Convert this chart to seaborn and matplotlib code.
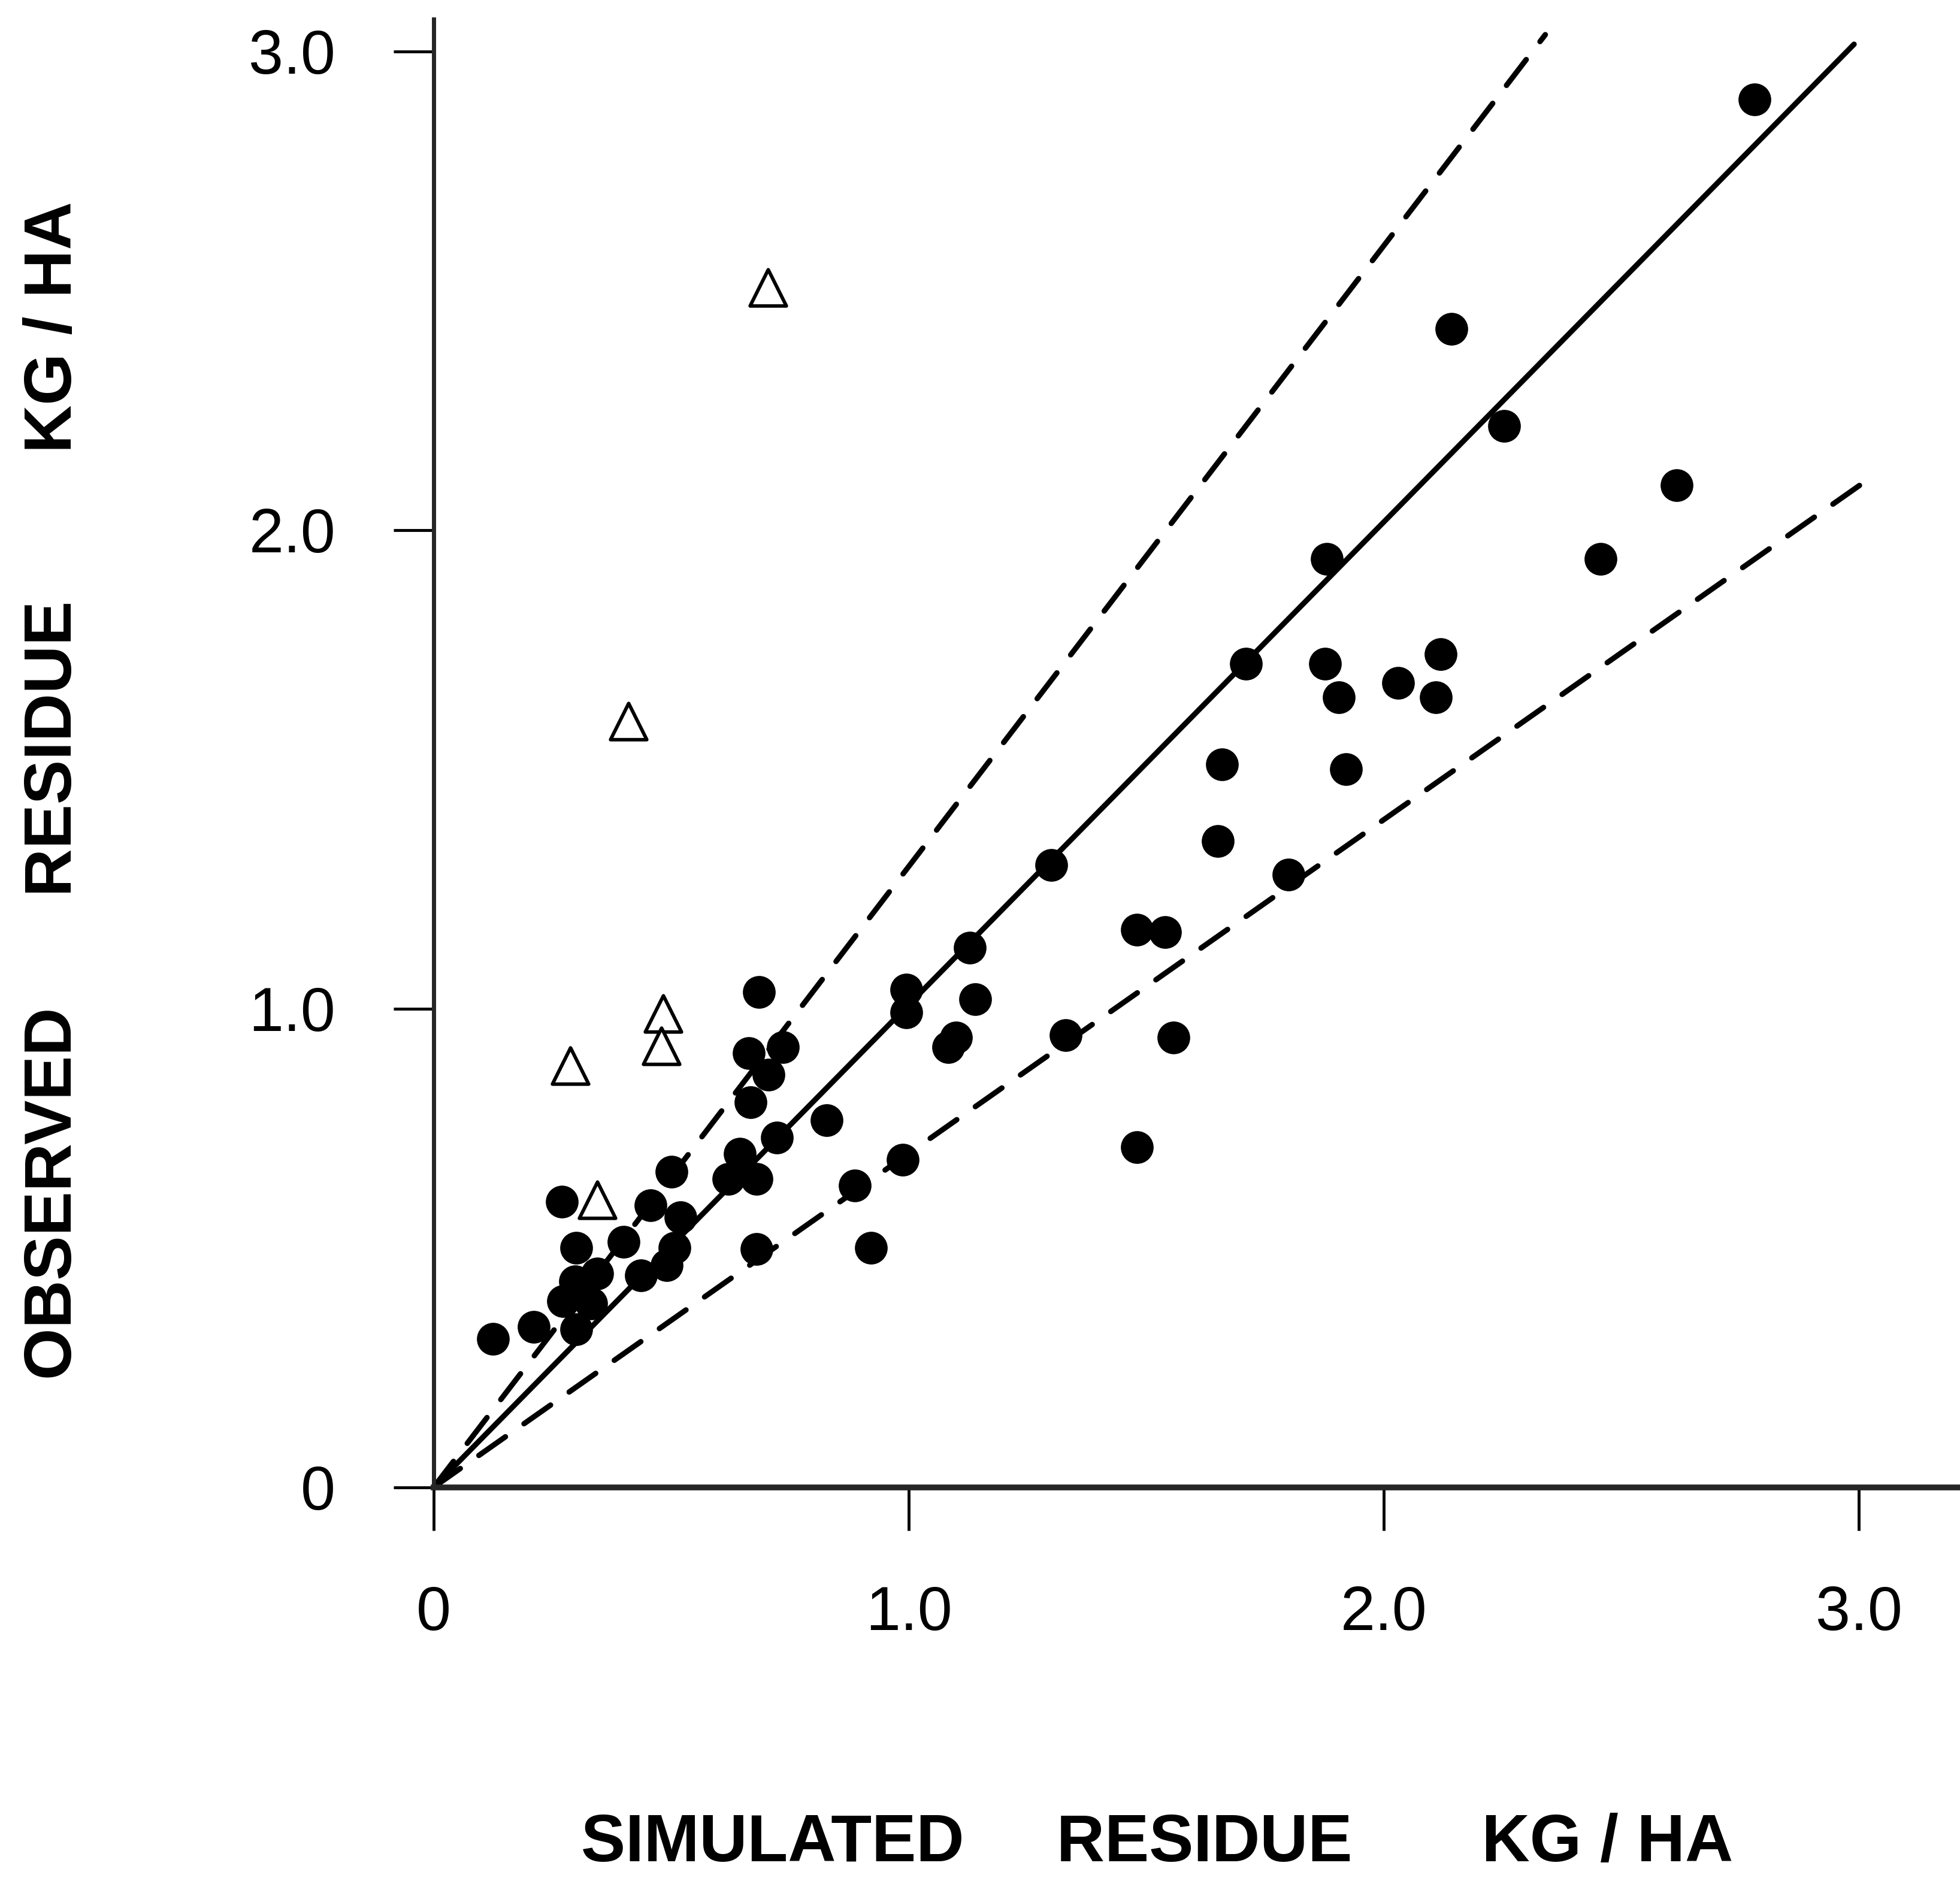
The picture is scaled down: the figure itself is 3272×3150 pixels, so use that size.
import matplotlib
matplotlib.use("Agg")
import matplotlib.pyplot as plt
import seaborn as sns

# --- Veri: simulated vs observed residue (kg/ha) ---
sim_circ = [0.125, 0.21, 0.27, 0.30, 0.297, 0.344, 0.272, 0.331, 0.30,
            0.40, 0.436, 0.457, 0.49, 0.507, 0.50, 0.52,
            0.62, 0.644, 0.68, 0.68, 0.684, 0.663, 0.735, 0.705, 0.667, 0.722,
            0.827, 0.886, 0.92, 0.987, 0.995, 0.995,
            1.083, 1.10, 1.14, 1.128, 1.30, 1.33, 1.48, 1.54, 1.557, 1.48,
            1.65, 1.66, 1.71, 1.80, 1.88, 1.876, 1.905, 1.92, 2.03, 2.12,
            2.11, 2.143, 2.253, 2.456, 2.616, 2.78]
obs_circ = [0.31, 0.335, 0.597, 0.50, 0.43, 0.446, 0.389, 0.384, 0.33,
            0.513, 0.442, 0.589, 0.464, 0.50, 0.659, 0.564,
            0.644, 0.697, 0.644, 0.497, 1.035, 0.907, 0.92, 0.862, 0.804, 0.731,
            0.767, 0.63, 0.50, 0.684, 1.04, 0.992,
            0.92, 0.94, 1.02, 1.127, 1.30, 0.945, 1.165, 1.16, 0.94, 0.71,
            1.35, 1.51, 1.72, 1.28, 1.94, 1.72, 1.65, 1.50, 1.68, 1.74,
            1.65, 2.42, 2.217, 1.94, 2.094, 2.90]

sim_tri = [0.344, 0.287, 0.483, 0.479, 0.41, 0.703]
obs_tri = [0.60, 0.88, 0.99, 0.922, 1.60, 2.507]

# 1:1 line and +/-30 % lines
line_x = [0.0, 2.99]
line_y = [0.0, 3.015]
upper_x = [0.0, 2.34]
upper_y = [0.0, 3.035]
lower_x = [0.0, 3.04]
lower_y = [0.0, 2.12]

tick_vals = [0, 1, 2, 3]
tick_labels = ["0", "1.0", "2.0", "3.0"]

sns.set_theme(style="ticks")
plt.rcParams["font.family"] = ["Liberation Sans", "DejaVu Sans"]

fig = plt.figure(figsize=(32.72, 31.5), dpi=100)
ax = fig.add_axes([0.2213, 0.2119, 0.7787, 0.7781])

dash = (0, (6, 4.2))
sns.lineplot(x=line_x, y=line_y, ax=ax, color="black", linewidth=6.5,
             sort=False, estimator=None, solid_capstyle="round")
sns.lineplot(x=upper_x, y=upper_y, ax=ax, color="black", linewidth=6.5,
             sort=False, estimator=None, linestyle=dash, dash_capstyle="round")
sns.lineplot(x=lower_x, y=lower_y, ax=ax, color="black", linewidth=6.5,
             sort=False, estimator=None, linestyle=dash, dash_capstyle="round")

sns.scatterplot(x=sim_circ, y=obs_circ, ax=ax, marker="o", s=1550,
                color="black", edgecolor="black", linewidth=0, zorder=3,
                clip_on=False)
sns.scatterplot(x=sim_tri, y=obs_tri, ax=ax, marker="^", s=1900,
                color="white", edgecolor="black", linewidth=4.2, zorder=4,
                clip_on=False)

ax.set_xlim(0, 3.213)
ax.set_ylim(0, 3.068)
ax.set_xticks(tick_vals)
ax.set_xticklabels(tick_labels)
ax.set_yticks(tick_vals)
ax.set_yticklabels(tick_labels)

for s in ["top", "right"]:
    ax.spines[s].set_visible(False)
ax.spines["left"].set_linewidth(5)
ax.spines["bottom"].set_linewidth(7)

ax.tick_params(axis="x", direction="out", length=52, width=3.5, pad=66,
               labelsize=75, colors="black")
ax.tick_params(axis="y", direction="out", length=48, width=3.5, pad=70,
               labelsize=75, colors="black")

ax.set_xlabel("SIMULATED     RESIDUE       KG / HA", fontsize=80,
              fontweight="bold", color="black")
ax.set_ylabel("OBSERVED      RESIDUE        KG / HA", fontsize=80,
              fontweight="bold", color="black")
ax.xaxis.label.set_va("center")
ax.yaxis.label.set_va("center")
ax.xaxis.set_label_coords(0.474, -0.243)
ax.yaxis.set_label_coords(-0.249, 0.4745)

ax.set_facecolor("white")
fig.patch.set_facecolor("white")
plt.savefig("out.png", dpi=100, facecolor="white")
